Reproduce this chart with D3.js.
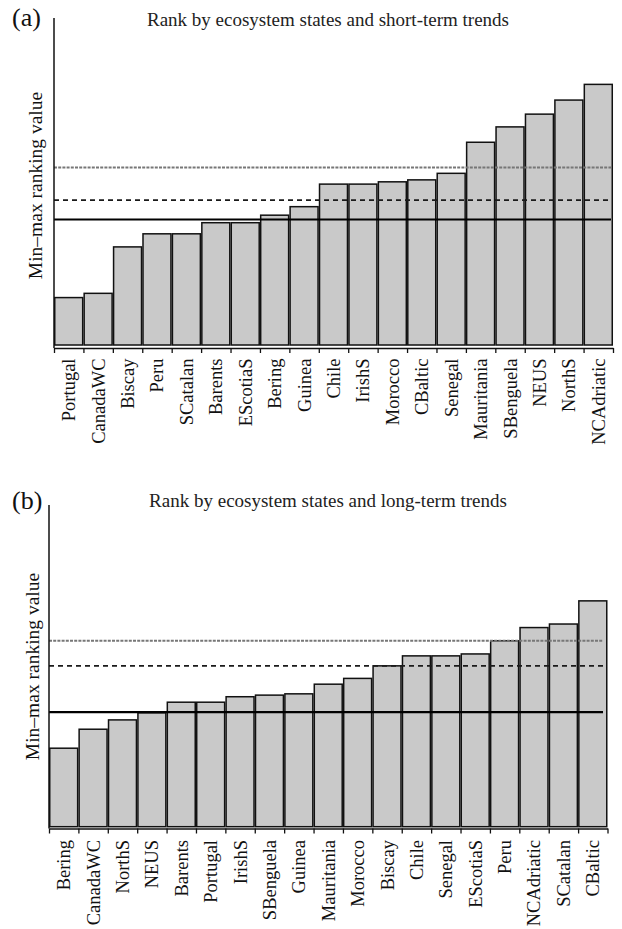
<!DOCTYPE html>
<html>
<head>
<meta charset="utf-8">
<script src="https://cdn.jsdelivr.net/npm/d3@7"></script>
<style>
body { margin: 0; background: #fff; }
svg { display: block; }
</style>
</head>
<body>
<svg id="chart" width="622" height="929"></svg>
<script>
// (a) short-term trends
var shortNames = ['Portugal', 'CanadaWC', 'Biscay', 'Peru', 'SCatalan', 'Barents', 'EScotiaS', 'Bering', 'Guinea',
    'Chile', 'IrishS', 'Morocco', 'CBaltic', 'Senegal', 'Mauritania', 'SBenguela', 'NEUS', 'NorthS', 'NCAdriatic'];
var shortValues = [0.145, 0.158, 0.300, 0.340, 0.340, 0.374, 0.374, 0.397, 0.423,
    0.492, 0.492, 0.499, 0.505, 0.525, 0.620, 0.667, 0.706, 0.749, 0.797];
// reference lines: grey dotted, dashed, solid
var shortRefs = [0.543, 0.443, 0.384];

// (b) long-term trends
var longNames = ['Bering', 'CanadaWC', 'NorthS', 'NEUS', 'Barents', 'Portugal', 'IrishS', 'SBenguela', 'Guinea',
    'Mauritania', 'Morocco', 'Biscay', 'Chile', 'Senegal', 'EScotiaS', 'Peru', 'NCAdriatic', 'SCatalan', 'CBaltic'];
var longValues = [0.244, 0.303, 0.332, 0.354, 0.387, 0.387, 0.404, 0.409, 0.413,
    0.443, 0.461, 0.500, 0.531, 0.531, 0.537, 0.578, 0.619, 0.630, 0.702];
var longRefs = [0.578, 0.500, 0.356];

var titles = ['Rank by ecosystem states and short-term trends', 'Rank by ecosystem states and long-term trends'];
var tags = ['(a)', '(b)'];
var yTitle = 'Min\u2013max ranking value';

var serif = '"Liberation Serif", "DejaVu Serif", "Times New Roman", Times, serif';

var svg = d3.select('#chart');

var refStyles = [
    {stroke: '#777', width: 1.9, dash: '3,1.2'},
    {stroke: '#1a1a1a', width: 1.9, dash: '5,4'},
    {stroke: '#000', width: 2.1, dash: null}
];

function drawPanel(names, values, refs, title, tag, p) {
    var g = svg.append('g')
        .attr('font-family', serif)
        .style('font-family', serif);

    var x = d3.scaleBand().domain(names).range([p.left, p.right])
        .paddingInner(0.05).paddingOuter(0.025);
    var y = d3.scaleLinear().domain([0, 1]).range([p.base, p.top]);
    var slots = d3.scaleLinear().domain([0, names.length]).range([p.left, p.right]);

    // bars
    g.selectAll('rect.bar')
        .data(values)
        .enter().append('rect')
        .attr('class', 'bar')
        .attr('x', function (d, i) { return x(names[i]); })
        .attr('width', x.bandwidth())
        .attr('y', function (d) { return y(d); })
        .attr('height', function (d) { return y(0) - y(d); })
        .style('fill', '#c9c9c9')
        .style('stroke', '#111')
        .style('stroke-width', 1.5);

    // horizontal reference lines
    g.selectAll('line.ref')
        .data(refs)
        .enter().append('line')
        .attr('class', 'ref')
        .attr('x1', p.left)
        .attr('x2', p.lineEnd)
        .attr('y1', function (d) { return y(d); })
        .attr('y2', function (d) { return y(d); })
        .style('stroke', function (d, i) { return refStyles[i].stroke; })
        .style('stroke-width', function (d, i) { return refStyles[i].width; })
        .style('stroke-dasharray', function (d, i) { return refStyles[i].dash; });

    // x axis with ticks between the bars
    var xAxis = d3.axisBottom(slots)
        .tickValues(d3.range(names.length + 1))
        .tickFormat('')
        .tickSize(5)
        .tickSizeOuter(0);
    var ax = g.append('g')
        .attr('transform', 'translate(0,' + p.axisY + ')')
        .call(xAxis);
    ax.select('.domain').style('stroke', '#111').style('stroke-width', 1.5);
    ax.selectAll('.tick line').style('stroke', '#111').style('stroke-width', 1.3);

    // y axis, no ticks
    g.append('line')
        .attr('x1', p.left).attr('x2', p.left)
        .attr('y1', y(1)).attr('y2', p.axisY)
        .style('stroke', '#111')
        .style('stroke-width', 1.5);

    // category labels
    g.selectAll('text.cat')
        .data(names)
        .enter().append('text')
        .attr('class', 'cat')
        .attr('transform', function (d) {
            return 'translate(' + (x(d) + x.bandwidth() / 2) + ',' + p.labelTop + ') rotate(-90)';
        })
        .attr('dy', '0.35em')
        .attr('text-anchor', 'end')
        .style('font-family', serif)
        .style('font-size', '18.5px')
        .style('fill', '#111')
        .text(function (d) { return d; });

    g.append('text')
        .attr('transform', 'translate(' + p.yTitleX + ',' + p.yTitleY + ') rotate(-90)')
        .attr('text-anchor', 'middle')
        .style('font-family', serif)
        .style('font-size', '19.5px')
        .style('fill', '#111')
        .text(yTitle);

    g.append('text')
        .attr('x', p.titleX)
        .attr('y', p.titleY)
        .attr('text-anchor', 'middle')
        .style('font-family', serif)
        .style('font-size', '19px')
        .style('fill', '#222')
        .text(title);

    g.append('text')
        .attr('x', 12)
        .attr('y', p.tagY)
        .style('font-family', serif)
        .style('font-size', '26px')
        .style('fill', '#111')
        .text(tag);
}

drawPanel(shortNames, shortValues, shortRefs, titles[0], tags[0], {
    left: 54, right: 613, base: 345, top: 18, axisY: 348, lineEnd: 611,
    labelTop: 358.5, yTitleX: 42, yTitleY: 185.5, titleX: 328, titleY: 26, tagY: 25.5
});

drawPanel(longNames, longValues, longRefs, titles[1], tags[1], {
    left: 49, right: 607.5, base: 826.7, top: 505, axisY: 828.5, lineEnd: 603,
    labelTop: 840, yTitleX: 38.5, yTitleY: 666.5, titleX: 328, titleY: 507, tagY: 509
});
</script>
</body>
</html>
